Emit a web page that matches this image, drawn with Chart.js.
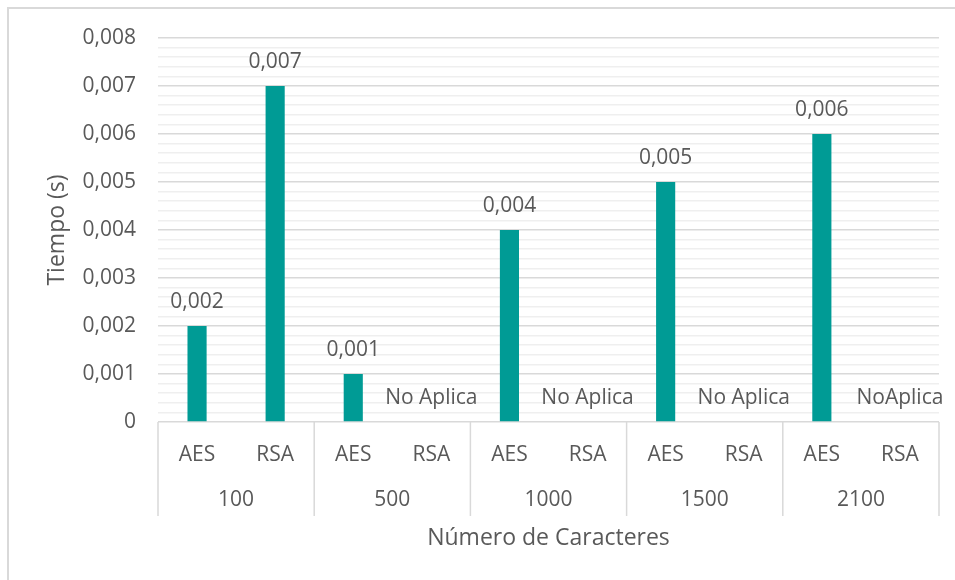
<!DOCTYPE html>
<html lang="es">
<head>
  <meta charset="UTF-8">
  <title>Tiempo de cifrado AES vs RSA</title>
  <script src="https://cdn.jsdelivr.net/npm/chart.js"></script>
  <style>
    body { margin: 0; background: #fff; overflow: hidden; }
    .wrap { position: relative; width: 955px; height: 580px; }
    .frame {
      position: absolute; left: 7px; top: 7px; right: 0; bottom: 0;
      border-left: 2px solid #d9d9d9; border-top: 2px solid #d9d9d9;
    }
    canvas { position: absolute; left: 0; top: 0; }
  </style>
</head>
<body>
  <div class="wrap">
    <div class="frame"></div>
    <canvas id="chart" width="955" height="580"></canvas>
  </div>

  <script>
    const groups = ['100', '500', '1000', '1500', '2100'];
    const methods = ['AES', 'RSA'];
    const aesTimes = [0.002, 0.001, 0.004, 0.005, 0.006];
    const rsaTimes = [0.007, 0, 0, 0, 0];
    const rsaNotes = [null, 'No Aplica', 'No Aplica', 'No Aplica', 'NoAplica'];
    const yMax = 0.008;
    const yMinorStep = 0.0002;
    const minorPerMajor = 5;

    // flatten the two-level axis into one category per bar
    const categories = groups.flatMap(() => methods);
    const times = groups.flatMap((g, i) => [aesTimes[i], rsaTimes[i]]);
    const notes = groups.flatMap((g, i) => [null, rsaNotes[i]]);

    const textColor = '#595959';
    const family = "'Open Sans', sans-serif";

    const isMajor = v => Math.round(v / yMinorStep) % minorPerMajor === 0;
    const fmt = v => v === 0 ? '0' : v.toFixed(3).replace('.', ',');

    // group labels (100, 500, ...) and the dividers between groups
    const groupAxis = {
      id: 'groupAxis',
      afterDraw(chart) {
        const { ctx, chartArea, scales: { x } } = chart;
        const half = (x.getPixelForValue(1) - x.getPixelForValue(0)) / 2;
        ctx.save();
        ctx.strokeStyle = '#d9d9d9';
        ctx.lineWidth = 1.5;
        for (let g = 0; g <= groups.length; g++) {
          const px = g < groups.length
            ? x.getPixelForValue(g * methods.length) - half
            : x.getPixelForValue(categories.length - 1) + half;
          ctx.beginPath();
          ctx.moveTo(px, chartArea.bottom);
          ctx.lineTo(px, chartArea.bottom + 94);
          ctx.stroke();
        }
        ctx.fillStyle = textColor;
        ctx.font = '21px ' + family;
        ctx.textAlign = 'center';
        ctx.textBaseline = 'middle';
        groups.forEach((g, i) => {
          const cx = (x.getPixelForValue(i * 2) + x.getPixelForValue(i * 2 + 1)) / 2;
          ctx.fillText(g, cx, chartArea.bottom + 78);
        });
        ctx.restore();
      }
    };

    // value labels above each bar
    const barLabels = {
      id: 'barLabels',
      afterDatasetsDraw(chart) {
        const { ctx } = chart;
        const meta = chart.getDatasetMeta(0);
        ctx.save();
        ctx.fillStyle = textColor;
        ctx.font = '21px ' + family;
        ctx.textAlign = 'center';
        ctx.textBaseline = 'alphabetic';
        meta.data.forEach((bar, i) => {
          const text = notes[i] || fmt(times[i]);
          ctx.fillText(text, bar.x, bar.y - 18);
        });
        ctx.restore();
      }
    };

    new Chart(document.getElementById('chart'), {
      type: 'bar',
      data: {
        labels: categories,
        datasets: [{
          data: times,
          backgroundColor: '#009b95',
          barPercentage: 0.245,
          categoryPercentage: 1
        }]
      },
      options: {
        responsive: false,
        animation: false,
        layout: { padding: { top: 38, right: 16, bottom: 0, left: 0 } },
        plugins: { legend: { display: false }, tooltip: { enabled: false } },
        scales: {
          x: {
            grid: { display: false },
            border: { display: false },
            ticks: { color: textColor, font: { family, size: 21 }, padding: 12, maxRotation: 0 },
            title: {
              display: true,
              text: 'Número de Caracteres',
              color: textColor,
              font: { family, size: 23 },
              padding: { top: 0, bottom: 28 }
            },
            afterFit: s => { s.height = 158; }
          },
          y: {
            min: 0,
            max: yMax,
            afterBuildTicks: s => {
              const n = Math.round(yMax / yMinorStep);
              s.ticks = Array.from({ length: n + 1 }, (_, i) => ({ value: i * yMinorStep }));
            },
            grid: {
              drawTicks: false,
              color: c => (c.tick && isMajor(c.tick.value)) ? '#d9d9d9' : '#efefef',
              lineWidth: 1.5
            },
            border: { display: false },
            ticks: {
              autoSkip: false,
              color: textColor,
              font: { family, size: 21 },
              padding: 22,
              callback: v => isMajor(v) ? fmt(v) : ''
            },
            title: {
              display: true,
              text: 'Tiempo (s)',
              color: textColor,
              font: { family, size: 23 },
              padding: { top: 44, bottom: 0 }
            },
            afterFit: s => { s.width = 158; }
          }
        }
      },
      plugins: [groupAxis, barLabels]
    });
  </script>
</body>
</html>
